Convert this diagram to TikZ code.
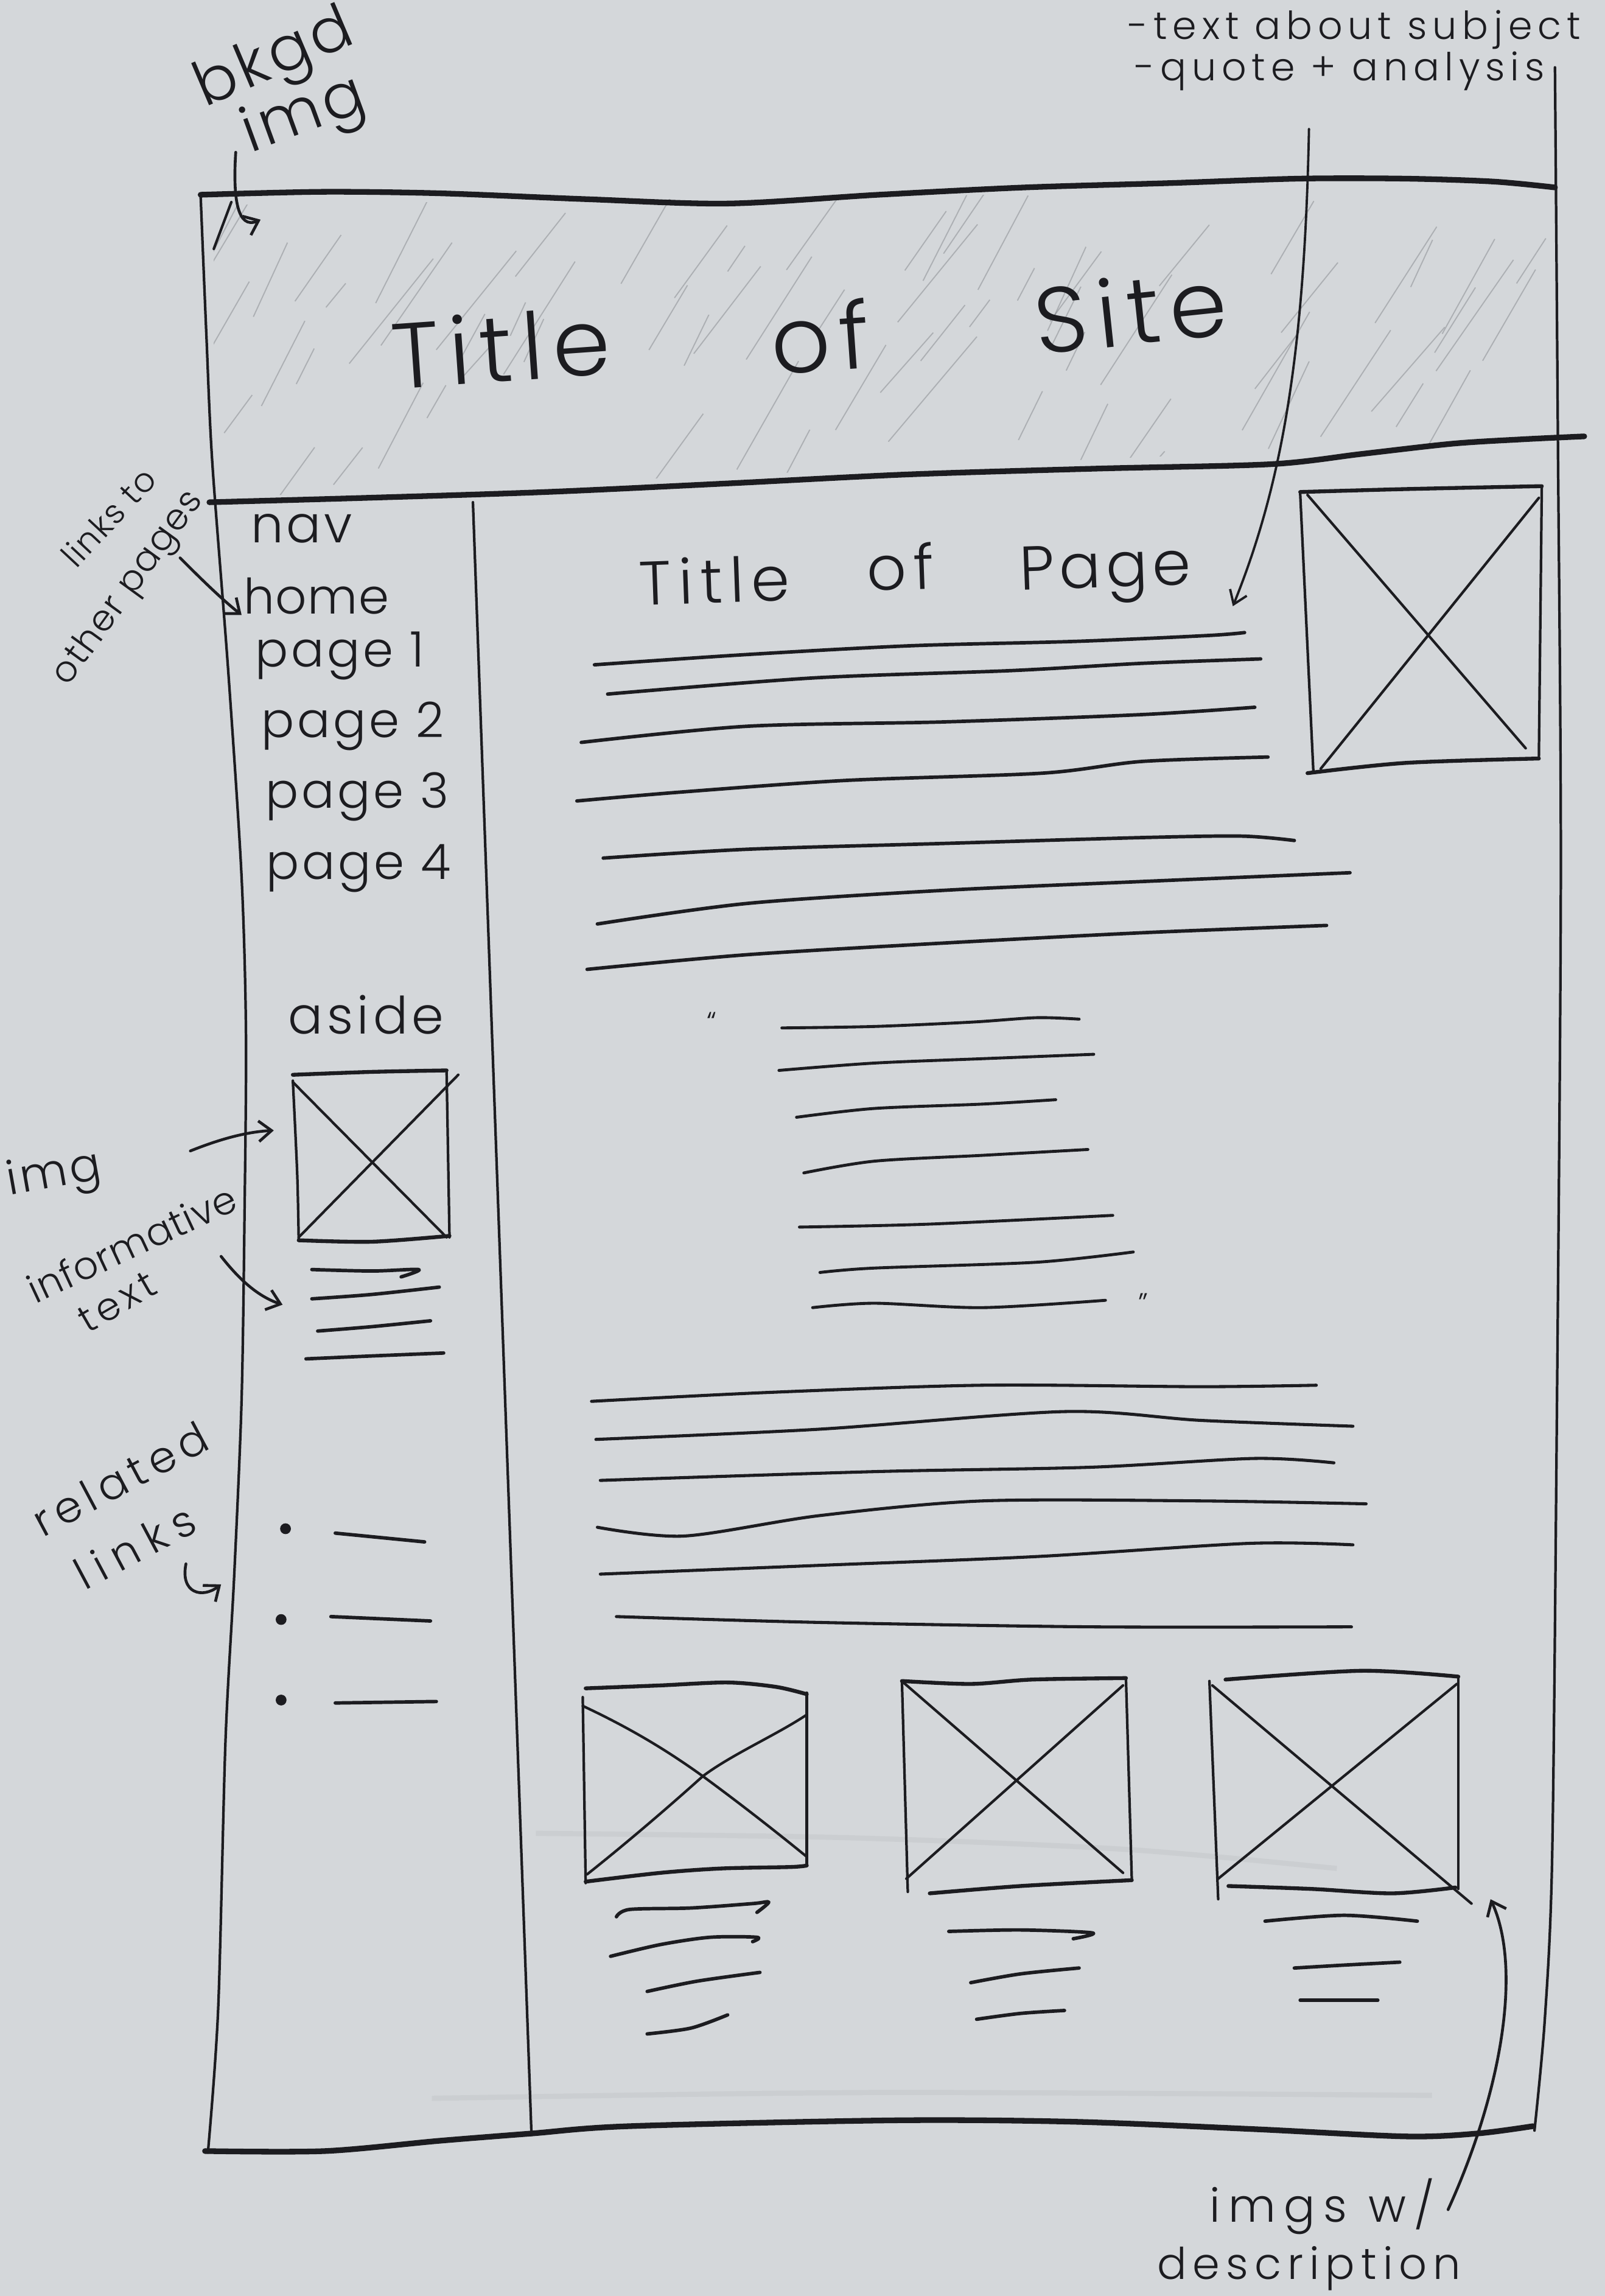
\documentclass[tikz,border=0pt]{standalone}
\usepackage{fontspec}
\usetikzlibrary{arrows.meta}
\IfFontExistsTF{Poppins Light}{\newfontfamily\handfont{Poppins Light}}{\newfontfamily\handfont{Poppins}}
\newcommand\hs[2]{\fontsize{#1}{#1}\selectfont\addfontfeature{LetterSpace=#2}}
\definecolor{paper}{RGB}{212,215,218}
\definecolor{ink}{RGB}{28,28,32}
\definecolor{pencil}{RGB}{100,103,108}
\tikzset{
  tx/.style={font=\handfont, text=ink, inner sep=0pt},
  thinpen/.style={draw=ink, line width=1.0pt, line cap=round, line join=round},
  pen/.style={draw=ink, line width=1.5pt, line cap=round, line join=round},
  thickpen/.style={draw=ink, line width=2.2pt, line cap=round, line join=round},
  txtline/.style={draw=ink, line width=1.35pt, line cap=round, line join=round},
  note/.style={draw=ink, line width=1.1pt, line cap=round, -{Straight Barb[length=5pt,width=8pt]}},
  hatch/.style={draw=pencil, line width=0.45pt, opacity=0.35},
  erased/.style={draw=pencil, line width=2pt, opacity=0.08},
}
\begin{document}
\begin{tikzpicture}[x=0.02cm, y=-0.02cm]
\fill[paper] (0,0) rectangle (1096,1568);
\useasboundingbox (0,0) rectangle (1096,1568);

% ---------- pencil shading of the header (background image)
\begin{scope}
  \clip (146,140) -- (1060,128) -- (1060,300) -- (146,340) -- cycle;
  \pgfmathsetseed{42}
  \foreach \k in {1,...,80}{
    \pgfmathsetmacro{\hx}{120+950*rnd}
    \pgfmathsetmacro{\hy}{170+180*rnd}
    \pgfmathsetmacro{\hl}{20+75*rnd}
    \pgfmathsetmacro{\ha}{-(48+18*rnd)}
    \draw[hatch] (\hx,\hy) -- ++(\ha:\hl);
  }
\end{scope}
\draw[thinpen] (146,170) -- (158,138);

% erased pencil traces
\draw[erased] plot[smooth] coordinates {(366,1252) (578,1255) (769,1263) (913,1276)};
\draw[erased] plot[smooth] coordinates {(295,1433) (600,1429) (978,1431)};

% ---------- page frame
\draw[thickpen] plot[smooth, tension=0.5] coordinates {(137,133) (220,131) (300,132) (400,136) (497,139) (600,133) (700,128) (800,125) (887,122) (960,122) (1020,124) (1062,128)};
\draw[thinpen] plot[smooth, tension=0.5] coordinates {(1062,46) (1064,300) (1066,600) (1063,1000) (1060,1272) (1055,1380) (1048,1455)};
\draw[thickpen] plot[smooth, tension=0.5] coordinates {(140,1469) (222,1469) (300,1462) (363,1457) (430,1452) (612,1448) (734,1449) (856,1454) (960,1459) (1009,1457) (1047,1452)};
\draw[thinpen] plot[smooth, tension=0.5] coordinates {(137,133) (141,230) (145,316) (156,460) (165,599) (168,707) (167,830) (165,956) (160,1075) (154,1189) (149,1372) (142,1470)};
\draw[thickpen] plot[smooth, tension=0.5] coordinates {(143,343) (250,340) (373,336) (500,330) (620,324) (750,320) (868,317) (930,310) (992,303) (1040,300) (1082,298)};
% nav / main divider
\draw[thinpen] (323,343) -- (363,1458);

% ---------- header
\node[tx, rotate=4] (siteT1) at (342,237) {\hs{36}{10}Title};
\node[tx, rotate=4] (siteT2) at (560,230) {\hs{36}{10}of};
\node[tx, rotate=6] (siteT3) at (772,212) {\hs{36}{10}Site};

% ---------- annotations at the top
\node[tx, rotate=23] (noteBkgd1) at (188,42) {\hs{24}{6}bkgd};
\node[tx, rotate=20] (noteBkgd2) at (208,80) {\hs{24}{6}img};
\coordinate (bkgdFrom) at (161,104);
\coordinate (bkgdTo) at (178,150);
\draw[note] (bkgdFrom) .. controls (159,135) and (162,157) .. (bkgdTo);

\node[tx, anchor=base] (noteSubj1) at (925,27) {\hs{15}{14}-text about subject};
\node[tx, anchor=base] (noteSubj2) at (915,55) {\hs{15}{14}-quote + analysis};
\coordinate (subjFrom) at (894,88);
\coordinate (subjTo) at (842,414);
\draw[note, -{Straight Barb[length=5pt,width=7pt]}, line width=0.9pt] (subjFrom) .. controls (891,240) and (876,330) .. (subjTo);

% ---------- navigation column
\node[tx] (navHead) at (206,361) {\hs{20}{6}nav};
\node[tx] (navHome) at (216,407) {\hs{19}{2}home};
\node[tx] (navP1) at (232,448) {\hs{19}{6}page 1};
\node[tx] (navP2) at (241,496) {\hs{19}{6}page 2};
\node[tx] (navP3) at (244,544) {\hs{19}{6}page 3};
\node[tx] (navP4) at (245,593) {\hs{19}{6}page 4};

\node[tx, rotate=47] (noteLinks1) at (74,353) {\hs{13}{4}links to};
\node[tx, rotate=54] (noteLinks2) at (88,402) {\hs{14}{4}other pages};
\coordinate (linksFrom) at (123,381);
\coordinate (linksTo) at (165,420);
\draw[note] (linksFrom) .. controls (135,393) and (150,408) .. (linksTo);

% ---------- aside column
\node[tx] (asideHead) at (250,693) {\hs{20}{8}aside};
\draw[pen] plot[smooth] coordinates {(200,734) (254,732) (305,731)};
\draw[thinpen] plot[smooth] coordinates {(200,738) (203,802) (204,847)};
\draw[thinpen] (305,731) -- (307,845);
\draw[pen] plot[smooth] coordinates {(204,847) (254,848) (307,844)};
\draw[thinpen] (200,739) -- (305,845);
\draw[thinpen] (313,734) -- (204,845);

\draw[txtline] plot[smooth] coordinates {(213,867) (254,868) (286,867) (274,872)};
\draw[txtline] plot[smooth] coordinates {(213,887) (254,884) (300,879)};
\draw[txtline] plot[smooth] coordinates {(217,909) (254,906) (294,902)};
\draw[txtline] plot[smooth] coordinates {(209,928) (254,926) (303,924)};

\node[tx, rotate=10] (noteImg) at (37,803) {\hs{18}{6}img};
\coordinate (imgFrom) at (130,786);
\coordinate (imgTo) at (187,772);
\draw[note] (imgFrom) .. controls (150,778) and (168,773) .. (imgTo);

\node[tx, rotate=25] (noteInfo1) at (90,849) {\hs{15}{2}informative};
\node[tx, rotate=30] (noteInfo2) at (80,889) {\hs{15}{12}text};
\coordinate (infoFrom) at (151,858);
\coordinate (infoTo) at (193,891);
\draw[note] (infoFrom) .. controls (162,872) and (175,885) .. (infoTo);

\node[tx, rotate=28] (noteRel1) at (82,1010) {\hs{17}{14}related};
\node[tx, rotate=28] (noteRel2) at (92,1056) {\hs{17}{22}links};
\coordinate (relFrom) at (127,1068);
\coordinate (relTo) at (151,1082);
\draw[note] (relFrom) .. controls (123,1088) and (138,1092) .. (relTo);

% related links list
\fill[ink] (195,1044) circle (2.1pt);
\fill[ink] (192,1106) circle (2.1pt);
\fill[ink] (192,1161) circle (2.1pt);
\draw[txtline] (229,1047) -- (290,1053);
\draw[txtline] (226,1104) -- (294,1107);
\draw[txtline] (229,1163) -- (298,1162);

% ---------- main column
\node[tx, rotate=2] (pageT1) at (488,396) {\hs{24}{12}Title};
\node[tx, rotate=2] (pageT2) at (615,387) {\hs{24}{12}of};
\node[tx, rotate=2] (pageT3) at (755,392) {\hs{24}{8}Page};

% hero image
\draw[pen] plot[smooth] coordinates {(888,336) (960,334) (1053,332)};
\draw[thinpen] (888,337) -- (897,527);
\draw[thinpen] (1053,333) -- (1051,518);
\draw[pen] plot[smooth] coordinates {(893,528) (960,521) (1051,518)};
\draw[thinpen] (893,338) -- (1042,511);
\draw[thinpen] (1051,340) -- (902,525);

% introductory paragraph
\draw[txtline] plot[smooth, tension=0.5] coordinates {(406,454) (510,447) (622,441) (735,438) (825,434) (850,432)};
\draw[txtline] plot[smooth, tension=0.5] coordinates {(415,474) (555,463) (690,458) (780,453) (861,450)};
\draw[txtline] plot[smooth, tension=0.5] coordinates {(397,507) (510,496) (645,493) (780,488) (857,483)};
\draw[txtline] plot[smooth, tension=0.5] coordinates {(394,547) (464,541) (577,533) (712,528) (780,520) (866,517)};
\draw[txtline] plot[smooth, tension=0.5] coordinates {(412,586) (510,580) (645,576) (780,572) (848,571) (884,574)};
\draw[txtline] plot[smooth, tension=0.5] coordinates {(408,631) (510,617) (645,608) (780,602) (922,596)};
\draw[txtline] plot[smooth, tension=0.5] coordinates {(401,662) (510,652) (645,644) (780,637) (906,632)};

% quotation
\node[tx] (quoteOpen) at (486,698) {\hs{11}{0}\textquotedblleft};
\node[tx] (quoteClose) at (781,890) {\hs{11}{0}\textquotedblright};
\draw[thinpen, line width=1.15pt] plot[smooth, tension=0.5] coordinates {(534,702) (597,701) (664,698) (708,695) (737,696)};
\draw[thinpen, line width=1.15pt] plot[smooth, tension=0.5] coordinates {(532,731) (597,726) (671,723) (747,720)};
\draw[thinpen, line width=1.15pt] plot[smooth, tension=0.5] coordinates {(544,763) (597,757) (671,754) (721,751)};
\draw[thinpen, line width=1.15pt] plot[smooth, tension=0.5] coordinates {(549,801) (597,793) (671,789) (743,785)};
\draw[thinpen, line width=1.15pt] plot[smooth, tension=0.5] coordinates {(546,838) (634,836) (760,830)};
\draw[thinpen, line width=1.15pt] plot[smooth, tension=0.5] coordinates {(560,869) (597,866) (708,862) (774,855)};
\draw[thinpen, line width=1.15pt] plot[smooth, tension=0.5] coordinates {(555,893) (597,890) (671,893) (755,888)};

% analysis paragraph
\draw[thinpen, line width=1.2pt] plot[smooth, tension=0.5] coordinates {(404,957) (523,951) (671,946) (820,947) (899,946)};
\draw[thinpen, line width=1.2pt] plot[smooth, tension=0.5] coordinates {(407,983) (560,976) (727,964) (820,970) (924,974)};
\draw[thinpen, line width=1.2pt] plot[smooth, tension=0.5] coordinates {(410,1011) (597,1005) (745,1002) (857,996) (911,999)};
\draw[thinpen, line width=1.2pt] plot[smooth, tension=0.5] coordinates {(408,1043) (467,1049) (560,1035) (671,1025) (820,1025) (933,1027)};
\draw[thinpen, line width=1.2pt] plot[smooth, tension=0.5] coordinates {(410,1075) (560,1069) (708,1063) (853,1054) (924,1055)};
\draw[thinpen, line width=1.2pt] plot[smooth, tension=0.5] coordinates {(421,1104) (560,1108) (745,1111) (923,1111)};

% gallery: first image
\draw[pen] plot[smooth] coordinates {(400,1153) (451,1151) (497,1149) (530,1152) (551,1157)};
\draw[thinpen] (398,1159) -- (400,1286);
\draw[thinpen] (551,1156) -- (551,1274);
\draw[pen] plot[smooth] coordinates {(400,1285) (451,1279) (493,1276) (540,1275) (551,1274)};
\draw[thinpen] (398,1165) .. controls (430,1180) and (455,1195) .. (480,1213) .. controls (510,1235) and (535,1255) .. (551,1268);
\draw[thinpen] (551,1171) .. controls (530,1185) and (500,1198) .. (480,1213) .. controls (450,1240) and (420,1265) .. (401,1280);
\draw[txtline] plot[smooth] coordinates {(421,1309) (430,1304) (472,1303) (514,1300) (525,1299) (517,1306)};
\draw[txtline] plot[smooth] coordinates {(417,1336) (451,1328) (485,1323) (517,1323) (514,1326)};
\draw[txtline] plot[smooth] coordinates {(442,1360) (476,1353) (519,1347)};
\draw[txtline] plot[smooth] coordinates {(442,1389) (472,1385) (497,1376)};

% gallery: second image
\draw[pen] plot[smooth] coordinates {(616,1148) (663,1150) (705,1147) (769,1146)};
\draw[thinpen] (616,1148) -- (620,1292);
\draw[thinpen] (769,1146) -- (773,1284);
\draw[pen] plot[smooth] coordinates {(635,1293) (697,1288) (773,1284)};
\draw[thinpen] (617,1149) -- (767,1279);
\draw[thinpen] (767,1151) -- (619,1283);
\draw[txtline] plot[smooth] coordinates {(648,1319) (697,1318) (746,1320) (733,1324)};
\draw[txtline] plot[smooth] coordinates {(663,1354) (697,1348) (737,1344)};
\draw[txtline] plot[smooth] coordinates {(667,1379) (697,1375) (727,1373)};

% gallery: third image
\draw[pen] plot[smooth] coordinates {(837,1147) (930,1141) (996,1145)};
\draw[thinpen] (826,1148) -- (832,1297);
\draw[thinpen] (996,1145) -- (996,1290);
\draw[pen] plot[smooth] coordinates {(839,1288) (896,1290) (951,1293) (994,1289)};
\draw[thinpen] (828,1151) -- (1005,1300);
\draw[thinpen] (995,1150) -- (832,1283);
\draw[txtline] plot[smooth] coordinates {(864,1312) (918,1308) (968,1312)};
\draw[txtline] plot[smooth] coordinates {(884,1344) (918,1342) (956,1340)};
\draw[txtline] plot[smooth] coordinates {(888,1366) (941,1366)};

% gallery annotation
\node[tx] (noteImgs1) at (903,1507) {\hs{18}{18}imgs w/};
\node[tx] (noteImgs2) at (894,1549) {\hs{17}{14}description};
\coordinate (imgsFrom) at (989,1509);
\coordinate (imgsTo) at (1018,1297);
\draw[note] (imgsFrom) .. controls (1025,1430) and (1040,1345) .. (imgsTo);

\end{tikzpicture}
\end{document}
